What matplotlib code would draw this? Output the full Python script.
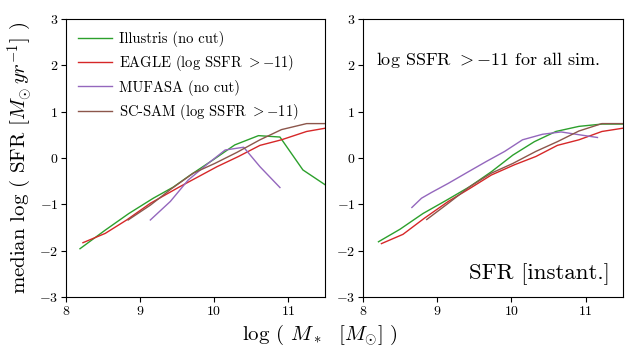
import matplotlib
matplotlib.use("Agg")
import matplotlib.pyplot as plt

plt.rcParams["font.family"] = "serif"
plt.rcParams["font.serif"] = ["cmr10", "DejaVu Serif"]
plt.rcParams["mathtext.fontset"] = "cm"
plt.rcParams["axes.formatter.use_mathtext"] = True

COLORS = {"Illustris": "#2ca02c", "EAGLE": "#d62728", "MUFASA": "#9467bd", "SC-SAM": "#8c564b"}

# left panel: different cuts per simulation
ill_x = [8.19, 8.53, 8.85, 9.18, 9.45, 9.68, 9.99, 10.28, 10.6, 10.89, 11.2, 11.5]
ill_y = [-1.96, -1.56, -1.2, -0.87, -0.63, -0.37, -0.04, 0.28, 0.48, 0.45, -0.26, -0.58]
eag_x = [8.23, 8.53, 8.82, 9.14, 9.54, 10.04, 10.33, 10.62, 10.91, 11.25, 11.5]
eag_y = [-1.83, -1.63, -1.34, -0.98, -0.62, -0.19, 0.03, 0.27, 0.39, 0.57, 0.64]
muf_x = [9.14, 9.41, 9.65, 9.92, 10.15, 10.4, 10.62, 10.89]
muf_y = [-1.34, -0.94, -0.48, -0.12, 0.17, 0.23, -0.19, -0.64]
sam_x = [8.84, 9.14, 9.43, 9.72, 10.01, 10.31, 10.62, 10.91, 11.25, 11.5]
sam_y = [-1.34, -1.02, -0.66, -0.33, -0.12, 0.12, 0.39, 0.61, 0.74, 0.74]

# right panel: log SSFR > -11 for all
ill2_x = [8.21, 8.5, 8.81, 9.13, 9.44, 9.73, 10.02, 10.31, 10.6, 10.91, 11.22, 11.5]
ill2_y = [-1.81, -1.54, -1.2, -0.91, -0.62, -0.3, 0.06, 0.35, 0.57, 0.68, 0.73, 0.73]
eag2_x = [8.25, 8.54, 8.83, 9.15, 9.44, 9.73, 10.04, 10.33, 10.62, 10.91, 11.22, 11.5]
eag2_y = [-1.85, -1.65, -1.3, -0.94, -0.66, -0.37, -0.15, 0.03, 0.27, 0.39, 0.57, 0.64]
muf2_x = [8.66, 8.79, 8.92, 9.15, 9.42, 9.66, 9.91, 10.15, 10.42, 10.67, 10.91, 11.16]
muf2_y = [-1.07, -0.87, -0.75, -0.55, -0.3, -0.08, 0.14, 0.39, 0.51, 0.56, 0.5, 0.44]
sam2_x = [8.86, 9.15, 9.44, 9.73, 10.02, 10.33, 10.62, 10.91, 11.22, 11.5]
sam2_y = [-1.33, -0.98, -0.62, -0.33, -0.12, 0.14, 0.35, 0.58, 0.74, 0.74]

labels = [
    "Illustris (no cut)",
    r"EAGLE (log SSFR $>-11$)",
    "MUFASA (no cut)",
    r"SC-SAM (log SSFR $>-11$)",
]

fig = plt.figure(figsize=(6.4, 3.56), dpi=100)
ax1 = fig.add_axes([0.103, 0.166, 0.405, 0.781])
ax2 = fig.add_axes([0.567, 0.166, 0.406, 0.781])

ax1.plot(ill_x, ill_y, color=COLORS["Illustris"], lw=1, label=labels[0])
ax1.plot(eag_x, eag_y, color=COLORS["EAGLE"], lw=1, label=labels[1])
ax1.plot(muf_x, muf_y, color=COLORS["MUFASA"], lw=1, label=labels[2])
ax1.plot(sam_x, sam_y, color=COLORS["SC-SAM"], lw=1, label=labels[3])

ax2.plot(ill2_x, ill2_y, color=COLORS["Illustris"], lw=1)
ax2.plot(eag2_x, eag2_y, color=COLORS["EAGLE"], lw=1)
ax2.plot(muf2_x, muf2_y, color=COLORS["MUFASA"], lw=1)
ax2.plot(sam2_x, sam2_y, color=COLORS["SC-SAM"], lw=1)

for ax in (ax1, ax2):
    ax.set_xlim(8, 11.5)
    ax.set_ylim(-3, 3)
    ax.set_xticks([8, 9, 10, 11])
    ax.set_yticks([-3, -2, -1, 0, 1, 2, 3])
    ax.tick_params(direction="out", length=3.5, labelsize=10, pad=2)

ax1.legend(loc="upper left", frameon=False, fontsize=10.5, handlelength=2.3,
           borderaxespad=0.45, labelspacing=0.42, handletextpad=0.5)

ax2.text(0.05, 0.835, r"log SSFR $>-11$ for all sim.", transform=ax2.transAxes, fontsize=13)
ax2.text(0.95, 0.065, "SFR [instant.]", transform=ax2.transAxes, fontsize=16.5, ha="right")

ax1.set_ylabel(r"median log ( SFR $[M_{\odot}\, yr^{-1}]$ )", fontsize=15)
fig.text(0.5, 0.045, r"log ( $M_*$  $[M_{\odot}]$ )", fontsize=15, ha="center")

fig.savefig("out.png", dpi=100)
